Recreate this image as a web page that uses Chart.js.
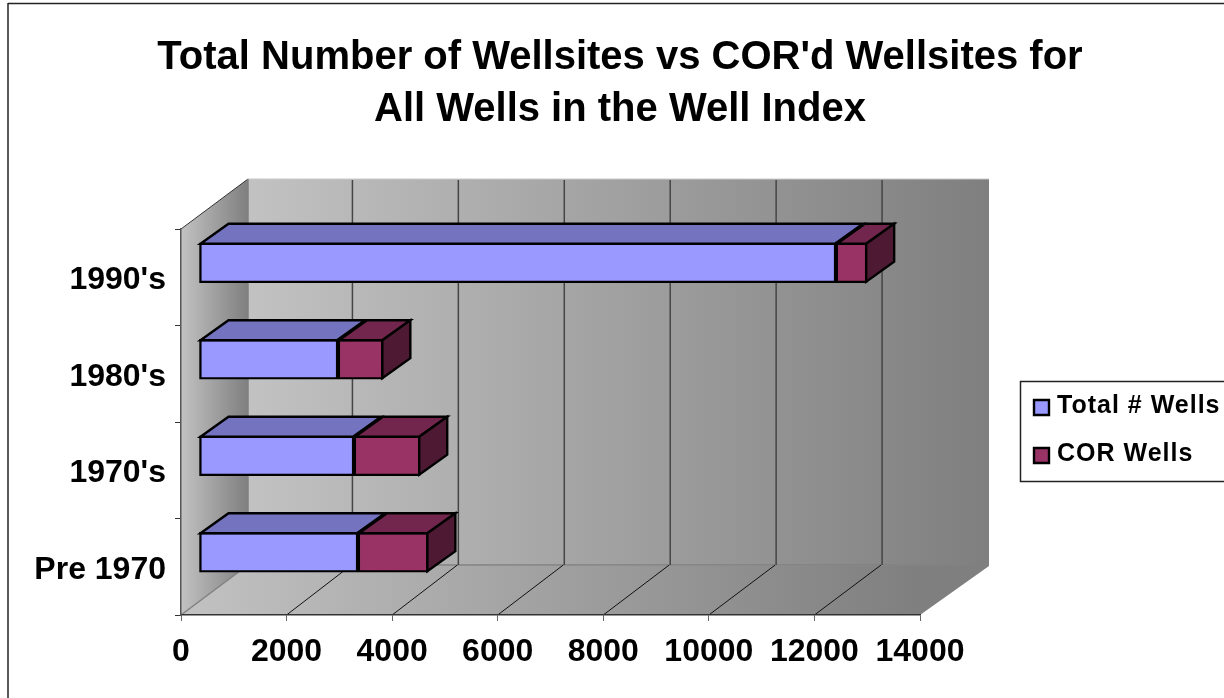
<!DOCTYPE html>
<html><head><meta charset="utf-8">
<style>html,body{margin:0;padding:0;background:#fff}canvas{display:block}</style>
<script src="https://cdn.jsdelivr.net/npm/chart.js@4"></script>
</head><body><canvas id="c" width="1224" height="698"></canvas>
<script>
const titleLines = ["Total Number of Wellsites vs COR'd Wellsites for", "All Wells in the Well Index"];
const categories = ["1990's", "1980's", "1970's", "Pre 1970"];
const totalWells = [12067, 2633, 2936, 3012];
const corWells = [591, 859, 1255, 1333];
const seriesNames = ["Total # Wells", "COR Wells"];
const axisMax = 14000, axisStep = 2000;

const FONT = '"Liberation Sans", Arial, sans-serif';
const WALL = {dxL: 67, dxR: 69, dy: -50};      // depth of the 3D box
const BAR = {sx: 18, sy: -14.5, dx: 28, dy: -20}; // bar placement inside the box
const colors = [{front: '#9999ff', top: '#7373bf', side: '#4d4d80'}, {front: '#993366', top: '#73264d', side: '#4d1933'}];

function poly(ctx, pts, fill, stroke, lw) {
  ctx.beginPath();
  pts.forEach((p, i) => i ? ctx.lineTo(p[0], p[1]) : ctx.moveTo(p[0], p[1]));
  ctx.closePath();
  if (fill) { ctx.fillStyle = fill; ctx.fill(); }
  if (stroke) { ctx.strokeStyle = stroke; ctx.lineWidth = lw; ctx.lineJoin = 'miter'; ctx.stroke(); }
}
function line(ctx, a, b, c, d, color, lw) {
  ctx.beginPath(); ctx.moveTo(a, b); ctx.lineTo(c, d); ctx.strokeStyle = color; ctx.lineWidth = lw; ctx.stroke();
}
function grad(ctx, x0, x1) {
  const g = ctx.createLinearGradient(x0, 0, x1, 0);
  g.addColorStop(0, '#c2c2c2'); g.addColorStop(1, '#7f7f7f');
  return g;
}

const box3d = {
  id: 'box3d',
  beforeDraw(chart) {
    const {ctx, chartArea: a, scales: {x}} = chart;
    ctx.save();
    // outer frame (only the left and top edges are in view)
    line(ctx, 8, 3, 8, 698, '#222', 1.5);
    line(ctx, 8, 3.5, 1224, 3.5, '#222', 1.5);
    // legend frame
    ctx.strokeStyle = '#222'; ctx.lineWidth = 1.5;
    ctx.strokeRect(1020.5, 381.5, 220, 100);
    const L = a.left, R = a.right, T = a.top, B = a.bottom, dxL = WALL.dxL, dxR = WALL.dxR, dy = WALL.dy;
    // side wall
    poly(ctx, [[L, T], [L + dxL, T + dy], [L + dxL, B + dy], [L, B]], grad(ctx, L, L + dxL));
    // back wall
    poly(ctx, [[L + dxL, T + dy], [R + dxR, T + dy], [R + dxR, B + dy + 1], [L + dxL, B + dy]], grad(ctx, L + dxL, R + dxR));
    // floor
    poly(ctx, [[L, B], [L + dxL, B + dy], [R + dxR, B + dy + 1], [R, B]], grad(ctx, L, R));
    line(ctx, L + dxL, T + dy, R + dxR, T + dy, '#c8c8c8', 1);
    line(ctx, L + dxL, B + dy, R + dxR, B + dy, '#808080', 1.5);
    line(ctx, L, T, L + dxL, T + dy, '#333', 1);
    // gridlines from the value scale
    x.ticks.forEach(t => {
      const px = x.getPixelForValue(t.value);
      const d = 65.5 + 2.5 * t.value / axisMax;
      if (t.value === 0) {
        line(ctx, L + dxL, T + dy, L + dxL, B + dy, '#808080', 1.5);
        line(ctx, px, B, L + dxL, B + dy, '#808080', 1.5);
      } else if (t.value < axisMax) {
        line(ctx, px + d, T + dy + 1, px + d, B + dy, '#454545', 1.5);
        line(ctx, px, B, px + d - 1, B + dy, '#111', 1);
      }
    });
    ctx.restore();
  },
  beforeDatasetDraw(chart) {
    chart.ctx.save();
    chart.ctx.translate(BAR.sx, BAR.sy);
  },
  afterDatasetDraw(chart) { chart.ctx.restore(); },
  afterDatasetsDraw(chart) {
    const {ctx} = chart;
    const last = chart.data.datasets.length - 1;
    ctx.save();
    chart.data.datasets.forEach((ds, di) => {
      chart.getDatasetMeta(di).data.forEach(el => {
        const p = el.getProps(['x', 'y', 'base', 'height'], true);
        const x0 = p.base + BAR.sx + 1, x1 = p.x + BAR.sx - 1;
        const t = p.y - p.height / 2 + BAR.sy + 1, b = p.y + p.height / 2 + BAR.sy - 1;
        poly(ctx, [[x0, t], [x0 + BAR.dx, t + BAR.dy], [x1 + BAR.dx, t + BAR.dy], [x1, t]], colors[di].top, '#000', 2.4);
        if (di === last) {
          poly(ctx, [[x1, t], [x1 + BAR.dx, t + BAR.dy], [x1 + BAR.dx, b + BAR.dy], [x1, b]], colors[di].side, '#000', 2.4);
        }
      });
    });
    ctx.restore();
  },
  afterUpdate(chart) {
    const t = chart.titleBlock;
    t.left = 0; t.right = 1240;
    const lg = chart.legend;
    const w = lg.right - lg.left;
    lg.left = 1011; lg.right = 1011 + w; lg.top = 372; lg.bottom = 372 + lg.height;
    if (!lg._wrapped) {
      lg._wrapped = true;
      const orig = lg.draw;
      lg.draw = function () {
        const ctx = chart.ctx, ft = ctx.fillText;
        ctx.save();
        ctx.letterSpacing = '1px';
        ctx.fillText = function (s, x, y, m) { return m === undefined ? ft.call(ctx, s, x - 4.5, y - 1.5) : ft.call(ctx, s, x - 4.5, y - 1.5, m); };
        orig.apply(this, arguments);
        delete ctx.fillText;
        ctx.restore();
      };
    }
  }
};

const chart = new Chart(document.getElementById('c'), {
  type: 'bar',
  data: {
    labels: categories,
    datasets: [
      {label: seriesNames[0], data: totalWells, backgroundColor: colors[0].front, borderColor: '#000', borderWidth: 2.4, borderSkipped: false, barThickness: 40, clip: false},
      {label: seriesNames[1], data: corWells, backgroundColor: colors[1].front, borderColor: '#000', borderWidth: 2.4, borderSkipped: false, barThickness: 40, clip: false}
    ]
  },
  plugins: [box3d],
  options: {
    indexAxis: 'y',
    responsive: false,
    animation: false,
    layout: {padding: {left: 16, right: 100, top: 0, bottom: 0}},
    scales: {
      x: {
        stacked: true, min: 0, max: axisMax,
        afterFit(s) { s.height = 83; },
        border: {color: '#333', width: 1.5},
        grid: {drawOnChartArea: false, drawTicks: true, tickLength: 6, color: '#666'},
        ticks: {stepSize: axisStep, autoSkip: false, maxRotation: 0, color: '#000', padding: 12, callback: v => String(v), font: {family: FONT, weight: 'bold', size: 32}}
      },
      y: {
        stacked: true,
        afterFit(s) { s.width = 165; },
        border: {color: '#555', width: 1.5},
        grid: {drawOnChartArea: false, drawTicks: true, tickLength: 6, color: '#333', offset: true},
        ticks: {color: '#000', padding: 9, labelOffset: 3, font: {family: FONT, weight: 'bold', size: 32}}
      }
    },
    plugins: {
      tooltip: {enabled: false},
      title: {display: true, text: titleLines, color: '#000', padding: {top: 32, bottom: 93}, font: {family: FONT, weight: 'bold', size: 40, lineHeight: 52 / 40}},
      legend: {
        display: true, position: 'right', align: 'start',
        labels: {boxWidth: 15, boxHeight: 15, padding: 23, color: '#000', font: {family: FONT, weight: 'bold', size: 25}}
      }
    }
  }
});
chart.options.layout.padding.right = 304 - chart.legend.width;
chart.update('none');
</script></body></html>
